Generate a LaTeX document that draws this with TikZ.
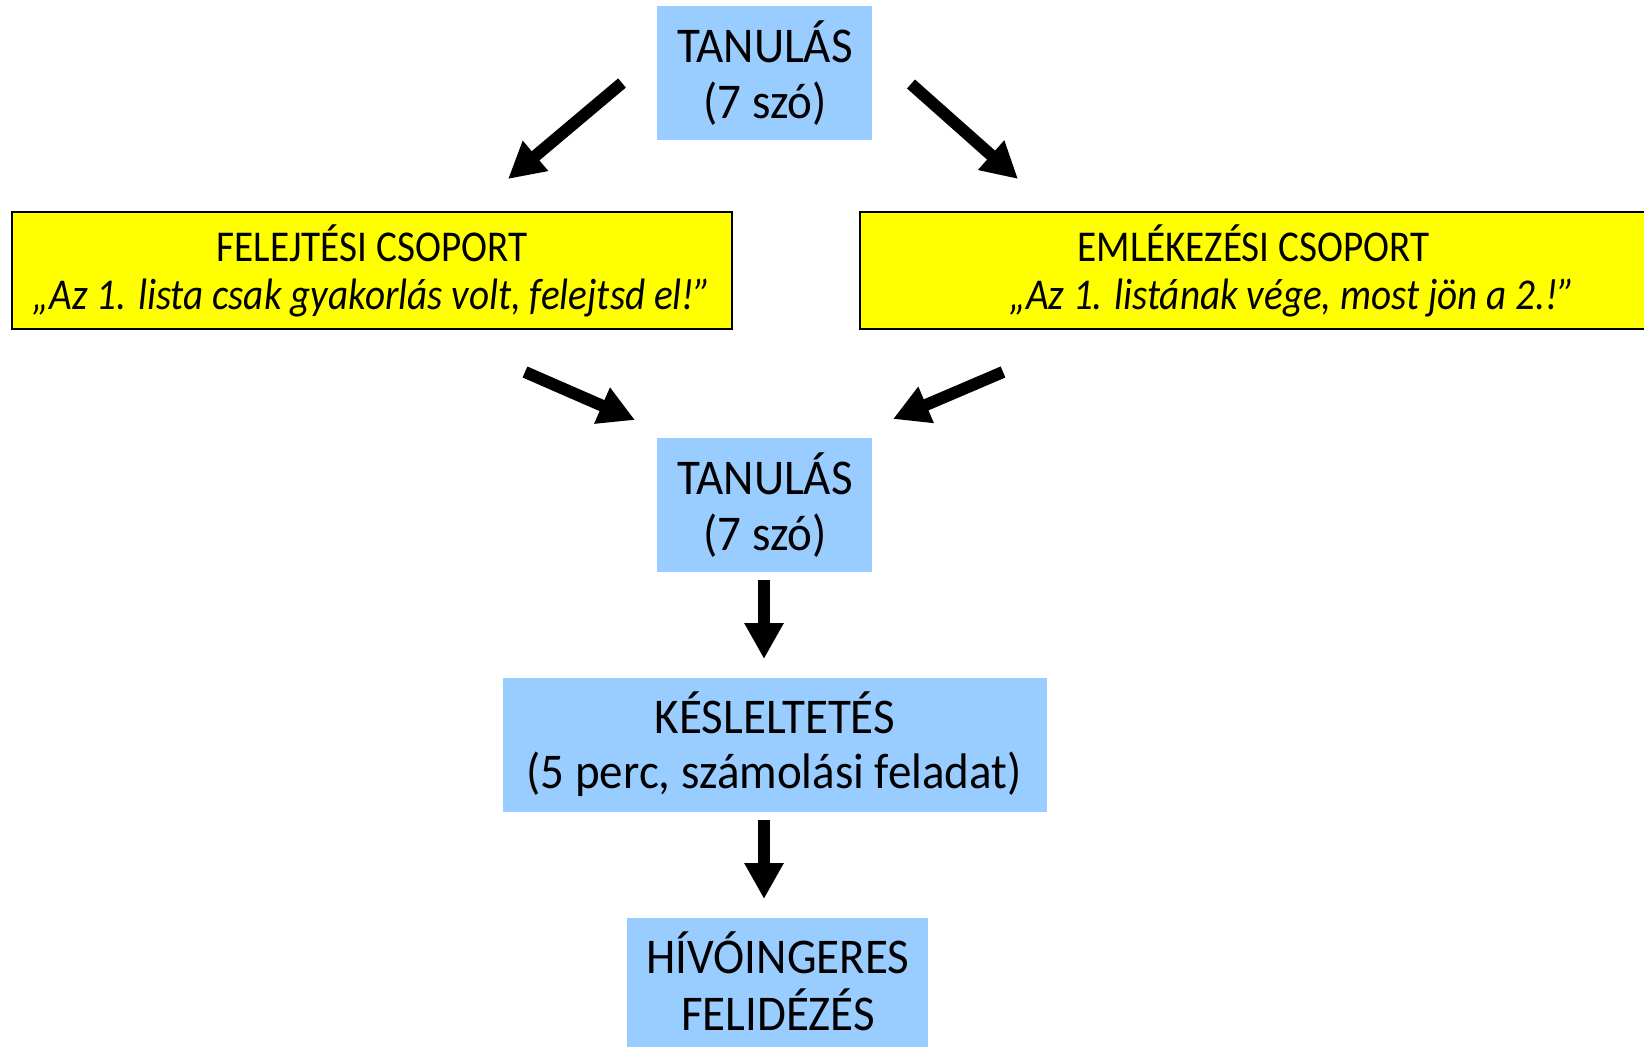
\documentclass[tikz,border=0pt]{standalone}
\usepackage{fontspec}
\setmainfont{Carlito}[FakeStretch=0.89]
\newfontfamily\bluefont{Carlito}[FakeStretch=0.94]
\usetikzlibrary{arrows.meta}
\definecolor{boxblue}{HTML}{99CCFF}
\definecolor{boxyellow}{HTML}{FFFF00}
\tikzset{
  bluebox/.style={rectangle, fill=boxblue, draw=none, inner sep=0pt},
  yellowbox/.style={rectangle, fill=boxyellow, draw=black, line width=1pt, inner sep=0pt},
  bluetext/.style={inner sep=0pt, anchor=base, font=\bluefont\fontsize{25}{27}\selectfont},
  yellowtitle/.style={inner sep=0pt, anchor=base, font=\fontsize{22}{24}\selectfont},
  yellowquote/.style={inner sep=0pt, anchor=base, font=\fontsize{22}{24}\selectfont\itshape},
  bigarrow/.style={line width=6pt, -{Triangle[length=18pt, width=18.5pt]}, black}
}
\begin{document}
\begin{tikzpicture}[x=0.5pt, y=-0.5pt]
\useasboundingbox (0,0) rectangle (1644,1046);
% boxes
\node[bluebox, minimum width=107.5pt, minimum height=67pt] (t1box) at (764.5,73) {};
\node[yellowbox, minimum width=360pt, minimum height=58.5pt] (yl) at (372,270) {};
\node[yellowbox, minimum width=394pt, minimum height=58.5pt] (yr) at (1254,270) {};
\node[bluebox, minimum width=107.5pt, minimum height=67pt] (t2box) at (764.5,504.5) {};
\node[bluebox, minimum width=272pt, minimum height=67pt] (delay) at (775,745) {};
\node[bluebox, minimum width=150.5pt, minimum height=67pt] (recall) at (777.5,985) {};
% texts
\node[bluetext] (t1a) at (765,62) {TANULÁS};
\node[bluetext] (t1b) at (765,118) {(7 szó)};
\node[yellowtitle] (yla) at (372,261) {FELEJTÉSI CSOPORT};
\node[yellowquote] (ylb) at (372,309) {„Az 1. lista csak gyakorlás volt, felejtsd el!”};
\node[yellowtitle] (yra) at (1253.5,261) {EMLÉKEZÉSI CSOPORT};
\node[yellowquote] (yrb) at (1292,309) {„Az 1. listának vége, most jön a 2.!”};
\node[bluetext] (t2a) at (765,494) {TANULÁS};
\node[bluetext] (t2b) at (765,550) {(7 szó)};
\node[bluetext] (da) at (775,733) {KÉSLELTETÉS};
\node[bluetext] (db) at (774,788) {(5 perc, számolási feladat)};
\node[bluetext] (ra) at (778,973) {HÍVÓINGERES};
\node[bluetext] (rb) at (778,1030) {FELIDÉZÉS};
% arrow end points
\coordinate (a1s) at (622,83);  \coordinate (a1e) at (508,179);
\coordinate (a2s) at (911,84);  \coordinate (a2e) at (1018,179);
\coordinate (a3s) at (525,372); \coordinate (a3e) at (635,420);
\coordinate (a4s) at (1003,372);\coordinate (a4e) at (893,419);
\coordinate (a5s) at (764,580); \coordinate (a5e) at (764,659);
\coordinate (a6s) at (764,820); \coordinate (a6e) at (764,899);
\draw[bigarrow] (a1s) -- (a1e);
\draw[bigarrow] (a2s) -- (a2e);
\draw[bigarrow] (a3s) -- (a3e);
\draw[bigarrow] (a4s) -- (a4e);
\draw[bigarrow] (a5s) -- (a5e);
\draw[bigarrow] (a6s) -- (a6e);
\end{tikzpicture}
\end{document}
